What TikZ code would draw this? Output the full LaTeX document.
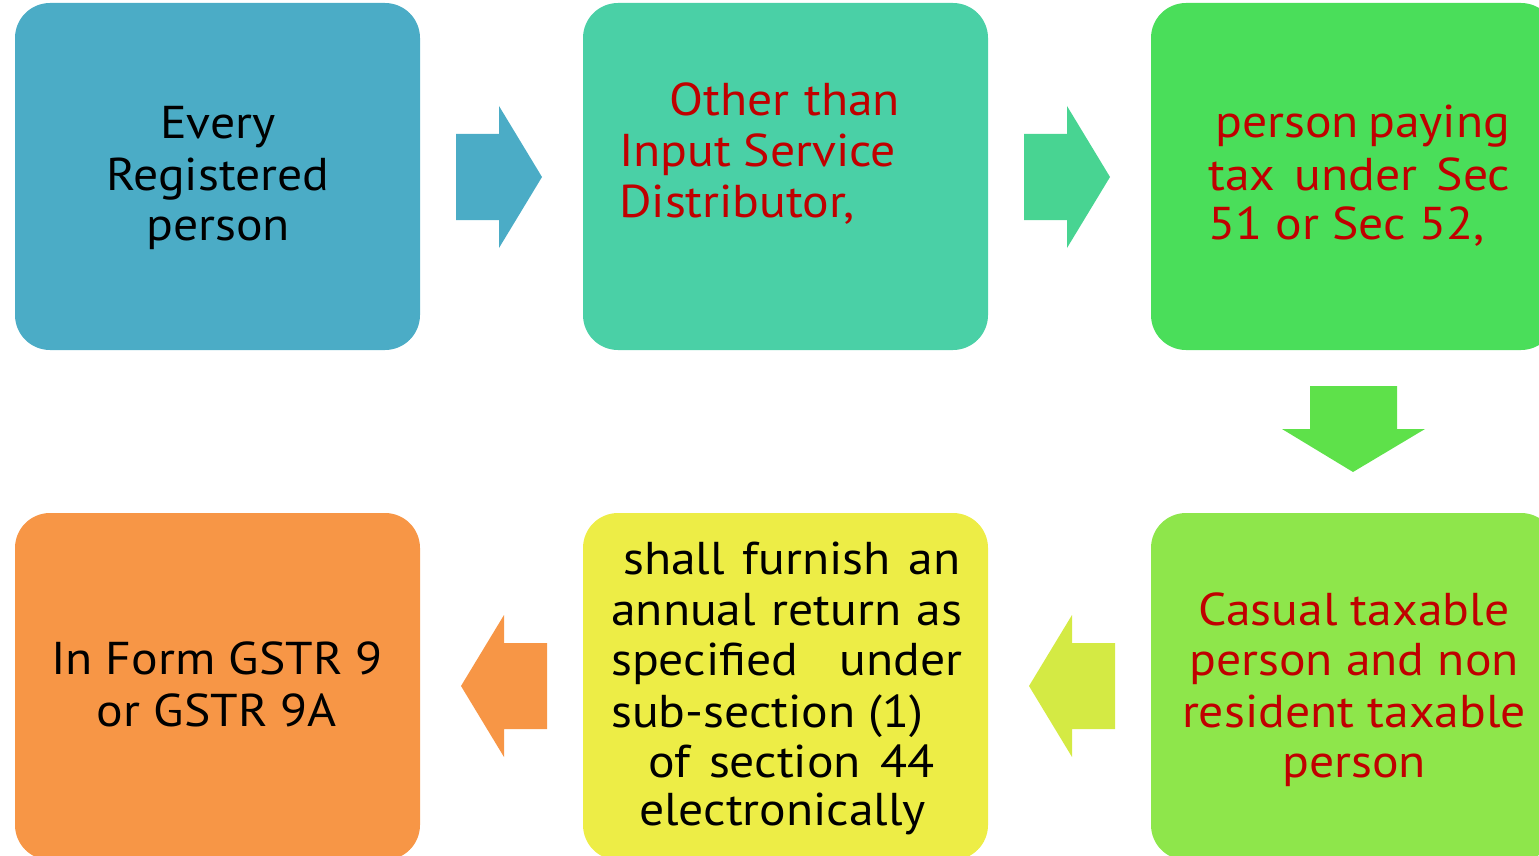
\documentclass[tikz,border=0pt]{standalone}
\usepackage{fontspec}
\setmainfont{PT Sans}[FakeStretch=1.08]
\definecolor{cA}{HTML}{4BACC6}
\definecolor{cB}{HTML}{4AD0A6}
\definecolor{cBa}{HTML}{48D492}
\definecolor{cC}{HTML}{4ADE5A}
\definecolor{cCa}{HTML}{5EE14A}
\definecolor{cD}{HTML}{8EE64B}
\definecolor{cDa}{HTML}{D4EA44}
\definecolor{cE}{HTML}{EDED46}
\definecolor{cF}{HTML}{F79646}
\definecolor{tred}{HTML}{C00000}
\begin{document}
\begin{tikzpicture}[x=1pt,y=-1pt,
  box/.style={rounded corners=35pt, draw=none, minimum width=405pt, minimum height=347pt, inner sep=0pt},
  txt/.style={font=\fontsize{46}{51}\selectfont, inner sep=0pt, anchor=base},
  txl/.style={txt, anchor=base west},
  red/.style={text=tred}]
\useasboundingbox (0,0) rectangle (1539,856);
\clip (0,0) rectangle (1539,856);
% boxes
\node[box, fill=cA] (b1) at (217.5,176.5) {};
\node[box, fill=cB] (b2) at (785.5,176.5) {};
\node[box, fill=cC] (b3) at (1353.5,176.5) {};
\node[box, fill=cD] (b4) at (1353.5,686.5) {};
\node[box, fill=cE] (b5) at (785.5,686.5) {};
\node[box, fill=cF] (b6) at (217.5,686.5) {};
% arrows
\fill[cA] (456,134) -- (499,134) -- (499,106) -- (542,177) -- (499,248) -- (499,220) -- (456,220) -- cycle;
\fill[cBa] (1024,134) -- (1067,134) -- (1067,106) -- (1110,177) -- (1067,248) -- (1067,220) -- (1024,220) -- cycle;
\fill[cCa] (1310,386) -- (1397,386) -- (1397,429) -- (1425,429) -- (1353,472) -- (1282,429) -- (1310,429) -- cycle;
\fill[cDa] (1115,643) -- (1072,643) -- (1072,615) -- (1029,686) -- (1072,757) -- (1072,729) -- (1115,729) -- cycle;
\fill[cF] (547,643) -- (504,643) -- (504,615) -- (461,686) -- (504,757) -- (504,729) -- (547,729) -- cycle;
% box 1 text
\node[txt] (t11) at (218,139) {Every};
\node[txt] (t12) at (218,190) {Registered};
\node[txt] (t13) at (218,240) {person};
% box 2 text
\node[txl, red] (t21) at (669,116) {\makebox[231pt][s]{Other than}};
\node[txl, red] (t22) at (619,166) {\makebox[277pt][s]{Input Service}};
\node[txl, red] (t23) at (619,217) {Distributor,};
% box 3 text
\node[txl, red] (t31) at (1215,138) {\makebox[295pt][s]{person paying}};
\node[txl, red] (t32) at (1208,190) {\makebox[302pt][s]{tax under Sec}};
\node[txl, red] (t33) at (1208,239) {51 or Sec 52,};
% box 4 text
\node[txt, red] (t41) at (1354,625) {Casual taxable};
\node[txt, red] (t42) at (1354,675) {person and non};
\node[txt, red] (t43) at (1354,727) {resident taxable};
\node[txt, red] (t44) at (1354,777) {person};
% box 5 text
\node[txl] (t51) at (623,574) {\makebox[337pt][s]{shall furnish an}};
\node[txl] (t52) at (611,625) {\makebox[351pt][s]{annual return as}};
\node[txl] (t53) at (611,675) {\makebox[351pt][s]{specified under}};
\node[txl] (t54) at (611,727) {sub-section (1)};
\node[txl] (t55) at (648,777) {\makebox[286pt][s]{of section 44}};
\node[txl] (t56) at (639,825) {electronically};
% box 6 text
\node[txt] (t61) at (217,674) {In Form GSTR 9};
\node[txt] (t62) at (217,726) {or GSTR 9A};
\end{tikzpicture}
\end{document}
